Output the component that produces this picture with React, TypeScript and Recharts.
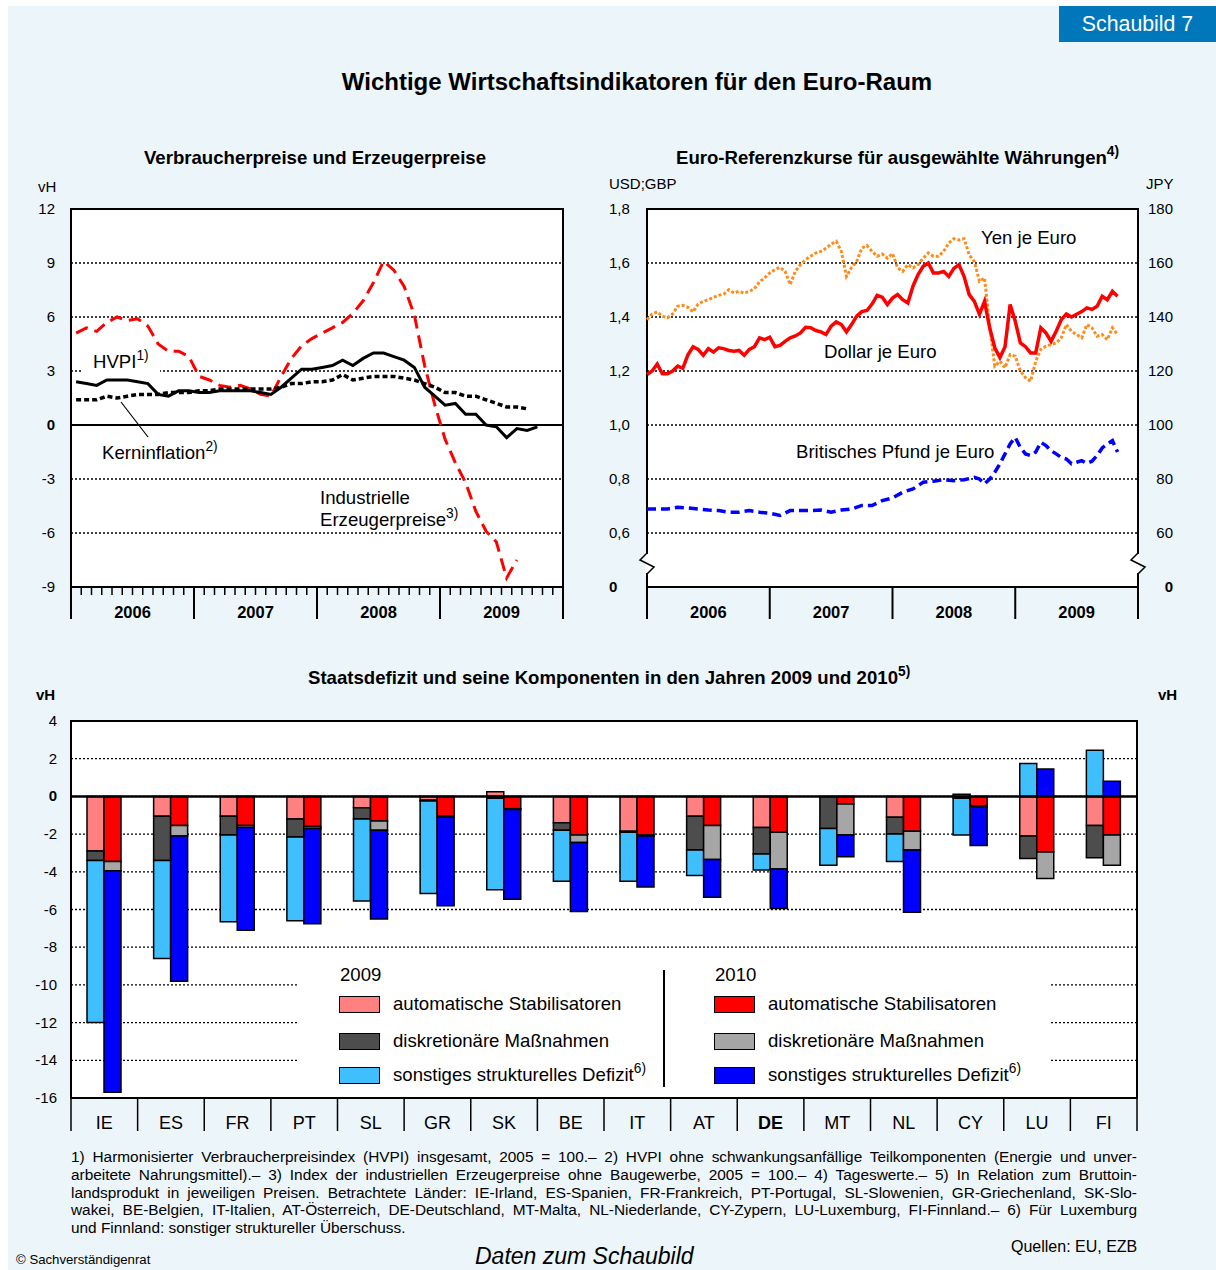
import React from 'react';
import {
  LineChart,
  Line,
  BarChart,
  Bar,
  XAxis,
  YAxis,
  CartesianGrid,
  ReferenceLine,
  ReferenceArea
} from 'recharts';

const FONT = '"Liberation Sans", Arial, sans-serif';
const NARROW = '"Liberation Sans Narrow", "Liberation Sans", Arial, sans-serif';

// --- Verbraucher- und Erzeugerpreise (monatlich ab Jan 2006, vH)
const jahre = ['2006', '2007', '2008', '2009'];
const hvpi = [2.4, 2.3, 2.2, 2.5, 2.5, 2.5, 2.4, 2.3, 1.7, 1.6, 1.9, 1.9, 1.8, 1.8, 1.9, 1.9, 1.9, 1.9, 1.8, 1.7, 2.1, 2.6, 3.1, 3.1, 3.2, 3.3, 3.6, 3.3, 3.7, 4.0, 4.0, 3.8, 3.6, 3.2, 2.1, 1.6, 1.1, 1.2, 0.6, 0.6, 0.0, -0.1, -0.7, -0.2, -0.3, -0.1];
const kerninflation = [1.4, 1.4, 1.4, 1.6, 1.5, 1.6, 1.7, 1.7, 1.7, 1.8, 1.8, 1.8, 1.9, 1.9, 2.0, 2.0, 2.0, 2.0, 2.0, 2.0, 2.1, 2.3, 2.3, 2.4, 2.4, 2.5, 2.8, 2.5, 2.6, 2.7, 2.7, 2.7, 2.6, 2.5, 2.3, 2.1, 1.8, 1.8, 1.6, 1.6, 1.4, 1.2, 1.0, 1.0, 0.9];
const erzeugerpreise = [5.1, 5.4, 5.2, 5.7, 6.0, 5.8, 5.9, 5.5, 4.5, 4.1, 4.1, 3.8, 2.7, 2.5, 2.2, 2.1, 2.2, 2.0, 1.7, 1.6, 2.7, 3.7, 4.4, 4.8, 5.1, 5.4, 5.7, 6.2, 6.9, 7.9, 9.1, 8.6, 7.7, 6.1, 3.3, 1.1, -0.8, -2.1, -3.2, -4.8, -5.9, -6.5, -8.5, -7.5];

// --- Referenzkurse (halbmonatlich ab Jan 2006)
const dollarJeEuro = [1.187, 1.2, 1.226, 1.19, 1.19, 1.2, 1.218, 1.21, 1.26, 1.29, 1.28, 1.258, 1.283, 1.27, 1.286, 1.283, 1.276, 1.273, 1.276, 1.258, 1.28, 1.29, 1.323, 1.316, 1.325, 1.29, 1.295, 1.31, 1.323, 1.33, 1.341, 1.362, 1.36, 1.35, 1.345, 1.335, 1.366, 1.382, 1.372, 1.345, 1.372, 1.403, 1.42, 1.424, 1.448, 1.48, 1.473, 1.446, 1.47, 1.483, 1.464, 1.452, 1.514, 1.557, 1.588, 1.6, 1.563, 1.563, 1.569, 1.55, 1.58, 1.594, 1.55, 1.483, 1.458, 1.41, 1.458, 1.36, 1.286, 1.25, 1.29, 1.446, 1.384, 1.304, 1.29, 1.267, 1.267, 1.36, 1.341, 1.31, 1.347, 1.39, 1.411, 1.4, 1.41, 1.42, 1.434, 1.428, 1.44, 1.477, 1.464, 1.495, 1.477];
const yenJeEuro = [139, 141.1, 141.9, 140.3, 139.7, 141.1, 144, 144.3, 143.6, 141.9, 144.8, 145.8, 146.4, 147.3, 148, 148.5, 150.1, 148.9, 149.5, 148.9, 149.5, 150.5, 153, 154.5, 156.3, 157.5, 158.4, 156.9, 152, 156.9, 159.4, 161.2, 162.5, 163.7, 164.3, 165.5, 167, 168, 164.3, 155, 158.4, 160.6, 165.5, 166.5, 164.3, 162.5, 163.3, 161.8, 163.5, 158.2, 156.9, 159.4, 158.2, 159.4, 161.8, 163.7, 162.5, 162.5, 164.3, 167.4, 169, 168.5, 169, 163, 160.6, 153.2, 154.5, 136.6, 121.8, 123.6, 121.2, 126.1, 125.5, 120, 117.5, 116.2, 123.6, 128, 129.2, 129.8, 130.4, 132.3, 137.2, 134.7, 133.5, 132.3, 137.2, 136, 132.9, 133.5, 131.6, 136, 133.5];
// Pfund: monatlich bis Sep 2008, danach halbmonatlich
const pfundMonatlich = [0.689, 0.689, 0.689, 0.695, 0.693, 0.689, 0.685, 0.683, 0.677, 0.677, 0.683, 0.677, 0.673, 0.665, 0.683, 0.683, 0.683, 0.685, 0.677, 0.685, 0.689, 0.702, 0.702, 0.72, 0.73, 0.751, 0.763, 0.788, 0.792, 0.797, 0.794, 0.797, 0.806];
const pfundHalbmonatlich = [0.8, 0.782, 0.8, 0.825, 0.856, 0.893, 0.93, 0.954, 0.917, 0.893, 0.887, 0.9, 0.936, 0.924, 0.905, 0.893, 0.88, 0.874, 0.856, 0.862, 0.868, 0.858, 0.866, 0.887, 0.915, 0.93, 0.942, 0.9];

// --- Staatsdefizit und Komponenten (vH des BIP)
const laender = ['IE', 'ES', 'FR', 'PT', 'SL', 'GR', 'SK', 'BE', 'IT', 'AT', 'DE', 'MT', 'NL', 'CY', 'LU', 'FI'];
const auto2009 = [-2.9, -1.05, -1.05, -1.2, -0.6, -0.2, 0.25, -1.4, -1.85, -1.05, -1.65, 0, -1.1, 0.12, -2.1, -1.55];
const disk2009 = [-0.5, -2.35, -1.0, -0.95, -0.6, -0.05, -0.1, -0.4, -0.05, -1.8, -1.4, -1.7, -0.9, -0.1, -1.2, -1.7];
const sonst2009 = [-8.6, -5.2, -4.6, -4.45, -4.35, -4.9, -4.85, -2.7, -2.6, -1.35, -0.85, -1.95, -1.45, -1.95, 1.75, 2.45];
const auto2010 = [-3.45, -1.55, -1.55, -1.6, -1.3, -1.05, -0.65, -2.05, -2.05, -1.55, -1.9, -0.4, -1.85, -0.5, -2.95, -2.05];
const disk2010 = [-0.5, -0.55, -0.1, -0.1, -0.5, -0.05, -0.05, -0.4, -0.05, -1.8, -1.95, -1.65, -1.0, -0.05, -1.4, -1.6];
const sonst2010 = [-11.75, -7.7, -5.45, -5.05, -4.7, -4.7, -4.75, -3.65, -2.7, -2.0, -2.1, -1.15, -3.3, -2.05, 1.45, 0.8];

const monatlich = (werte: number[]) => werte.map((v, i) => ({ t: i + 0.5, v }));
const halbmonatlich = (werte: number[], start = 0) => werte.map((v, i) => ({ t: start + i * 0.5, v }));

const pfund = [
  ...pfundMonatlich.map((v, i) => ({ t: i, v })),
  ...halbmonatlich(pfundHalbmonatlich, pfundMonatlich.length - 0.5)
];

const defizitDaten = laender.map((land, i) => ({
  land,
  a9: auto2009[i], d9: disk2009[i], s9: sonst2009[i],
  a10: auto2010[i], d10: disk2010[i], s10: sonst2010[i]
}));

const monate = Array.from({ length: 49 }, (_, i) => i);
const jahrTicks = [0, 6, 12, 18, 24, 30, 36, 42, 48];
const BAND = 1066 / laender.length;

const MonatTick = (p: any) => {
  const v = p.payload.value;
  const { x, y } = p;
  if (v % 12 === 0) return <line x1={x} x2={x} y1={y} y2={y + 32} stroke="#000" strokeWidth={2} />;
  return (
    <g>
      <line x1={x} x2={x} y1={y} y2={y + 8} stroke="#000" strokeWidth={1.5} />
      {v % 12 === 6 && (
        <text x={x} y={y + 31} textAnchor="middle" fontWeight="bold" fontSize={16.5} fontFamily={FONT} fill="#000">
          {jahre[(v - 6) / 12]}
        </text>
      )}
    </g>
  );
};

const JahrTick = (p: any) => {
  const v = p.payload.value;
  const { x, y } = p;
  if (v % 12 === 0) return <line x1={x} x2={x} y1={y} y2={y + 32} stroke="#000" strokeWidth={2} />;
  return (
    <text x={x} y={y + 31} textAnchor="middle" fontWeight="bold" fontSize={16.5} fontFamily={FONT} fill="#000">
      {jahre[(v - 6) / 12]}
    </text>
  );
};

const LandTick = (p: any) => {
  const { x, y, index } = p;
  const land = p.payload.value;
  const h = BAND / 2;
  return (
    <g>
      <line x1={x - h} x2={x - h} y1={y} y2={y + 33} stroke="#000" strokeWidth={1.5} />
      {index === laender.length - 1 && <line x1={x + h} x2={x + h} y1={y} y2={y + 33} stroke="#000" strokeWidth={1.5} />}
      <text x={x} y={y + 31} textAnchor="middle" fontSize={18} fontFamily={NARROW} fill="#000" fontWeight={land === 'DE' ? 'bold' : 'normal'}>
        {land}
      </text>
    </g>
  );
};

const zahlTick = (anchor: 'start' | 'end', fmt: (v: number) => string, nullWert: number) => (p: any) => {
  const v = p.payload.value;
  return (
    <text x={p.x} y={p.y} dy={5} textAnchor={anchor} fontSize={15} fontFamily={FONT} fill="#000" fontWeight={v === nullWert ? 'bold' : 'normal'}>
      {fmt(v)}
    </text>
  );
};

const T = ({ x, y, size = 18.6, bold = false, italic = false, children, style }: any) => (
  <div
    style={{
      position: 'absolute', left: x, top: y - size * 0.46, fontSize: size, lineHeight: 1, whiteSpace: 'nowrap',
      fontWeight: bold ? 'bold' : 'normal', fontStyle: italic ? 'italic' : 'normal', color: '#000', ...style
    }}
  >
    {children}
  </div>
);

const Sup = ({ children }: any) => <sup style={{ fontSize: '0.74em', verticalAlign: '0.55em', lineHeight: 0 }}>{children}</sup>;

const Swatch = ({ x, y, color }: any) => (
  <div style={{ position: 'absolute', left: x, top: y - 8.5, width: 39, height: 15, background: color, border: '1.5px solid #000' }} />
);

const fussnoten = [
  '1) Harmonisierter Verbraucherpreisindex (HVPI) insgesamt, 2005 = 100.– 2)  HVPI ohne schwankungsanfällige Teilkomponenten (Energie und unver-',
  'arbeitete Nahrungsmittel).– 3) Index der industriellen Erzeugerpreise ohne Baugewerbe, 2005 = 100.– 4) Tageswerte.– 5) In Relation zum Bruttoin-',
  'landsprodukt in jeweiligen Preisen. Betrachtete Länder: IE-Irland, ES-Spanien, FR-Frankreich, PT-Portugal, SL-Slowenien, GR-Griechenland, SK-Slo-',
  'wakei, BE-Belgien, IT-Italien, AT-Österreich, DE-Deutschland, MT-Malta, NL-Niederlande, CY-Zypern, LU-Luxemburg, FI-Finnland.– 6) Für Luxemburg',
  'und Finnland: sonstiger struktureller Überschuss.'
];

const grid = { stroke: '#000', strokeDasharray: '2 2', strokeWidth: 1.3 };

export default function App() {
  return (
    <div style={{ position: 'absolute', left: 0, top: 0, width: 1216, height: 1270, background: '#fff', fontFamily: FONT, overflow: 'hidden' }}>
      <div style={{ position: 'absolute', left: 8, top: 6, width: 1208, height: 1264, background: '#ECF5F9' }} />
      <div style={{ position: 'absolute', left: 1059, top: 6, width: 157, height: 36, background: '#0077BB', color: '#fff', fontSize: 21.3, lineHeight: '36px', textAlign: 'center' }}>
        Schaubild 7
      </div>

      <T x={337} y={81} size={24} bold style={{ width: 600, textAlign: 'center' }}>Wichtige Wirtschaftsindikatoren für den Euro-Raum</T>
      <T x={15} y={158} size={18.6} bold style={{ width: 600, textAlign: 'center' }}>Verbraucherpreise und Erzeugerpreise</T>
      <T x={676} y={158} size={18.6} bold>Euro-Referenzkurse für ausgewählte Währungen<Sup>4)</Sup></T>
      <T x={308} y={678} size={18.6} bold>Staatsdefizit und seine Komponenten in den Jahren 2009 und 2010<Sup>5)</Sup></T>

      <T x={38} y={186} size={15}>vH</T>
      <T x={609} y={183} size={15}>USD;GBP</T>
      <T x={1146} y={183} size={15}>JPY</T>
      <T x={36} y={694} size={15} bold>vH</T>
      <T x={1158} y={694} size={15} bold>vH</T>

      {/* Verbraucherpreise und Erzeugerpreise */}
      <div style={{ position: 'absolute', left: 0, top: 190 }}>
        <LineChart width={600} height={440} margin={{ top: 19, right: 37, bottom: 0, left: 0 }}>
          <CartesianGrid vertical={false} fill="#fff" {...grid} />
          <XAxis type="number" dataKey="t" domain={[0, 48]} ticks={monate} interval={0} height={43}
            axisLine={false} tickLine={false} tickSize={0} tickMargin={0} tick={MonatTick} />
          <YAxis domain={[-9, 12]} ticks={[-9, -6, -3, 0, 3, 6, 9, 12]} interval={0} width={71}
            axisLine={false} tickLine={false} tickSize={6} tickMargin={10}
            tick={zahlTick('end', (v) => String(v), 0)} />
          <ReferenceLine y={0} stroke="#000" strokeWidth={2} />
          <ReferenceArea x1={0} x2={48} y1={-9} y2={12} fill="none" stroke="#000" strokeWidth={2} ifOverflow="visible" />
          <Line data={monatlich(erzeugerpreise)} dataKey="v" stroke="#FF0000" strokeWidth={3} strokeDasharray="13 7" dot={false} isAnimationActive={false} />
          <Line data={monatlich(kerninflation)} dataKey="v" stroke="#000" strokeWidth={3.5} strokeDasharray="5 3" dot={false} isAnimationActive={false} />
          <Line data={monatlich(hvpi)} dataKey="v" stroke="#000" strokeWidth={3} dot={false} isAnimationActive={false} />
        </LineChart>
      </div>
      <div style={{ position: 'absolute', left: 82, top: 351, width: 78, height: 23, background: '#fff' }} />
      <T x={93} y={362}>HVPI<Sup>1)</Sup></T>
      <T x={102} y={453}>Kerninflation<Sup>2)</Sup></T>
      <T x={320} y={498}>Industrielle</T>
      <T x={320} y={520}>Erzeugerpreise<Sup>3)</Sup></T>

      {/* Referenzkurse */}
      <div style={{ position: 'absolute', left: 600, top: 190 }}>
        <LineChart width={616} height={440} margin={{ top: 19, right: 0, bottom: 0, left: 0 }}>
          <CartesianGrid vertical={false} fill="#fff" yAxisId="l" {...grid} />
          <XAxis type="number" dataKey="t" domain={[0, 48]} ticks={jahrTicks} interval={0} height={43}
            axisLine={false} tickLine={false} tickSize={0} tickMargin={0} tick={JahrTick} />
          <YAxis yAxisId="l" domain={[0.4, 1.8]} ticks={[0.4, 0.6, 0.8, 1.0, 1.2, 1.4, 1.6, 1.8]} interval={0} width={47}
            axisLine={false} tickLine={false} tickSize={0} tickMargin={38}
            tick={zahlTick('start', (v) => (v === 0.4 ? '0' : v.toFixed(1).replace('.', ',')), 0.4)} />
          <YAxis yAxisId="r" orientation="right" domain={[40, 180]} ticks={[40, 60, 80, 100, 120, 140, 160, 180]} interval={0} width={78}
            axisLine={false} tickLine={false} tickSize={0} tickMargin={35}
            tick={zahlTick('end', (v) => (v === 40 ? '0' : String(v)), 40)} />
          <ReferenceArea yAxisId="l" x1={0} x2={48} y1={0.4} y2={1.8} fill="none" stroke="#000" strokeWidth={2} ifOverflow="visible" />
          <Line yAxisId="r" data={halbmonatlich(yenJeEuro)} dataKey="v" stroke="#FF8C1A" strokeWidth={3} strokeDasharray="3 2" dot={false} isAnimationActive={false} />
          <Line yAxisId="l" data={halbmonatlich(dollarJeEuro)} dataKey="v" stroke="#FF0000" strokeWidth={3.5} dot={false} isAnimationActive={false} />
          <Line yAxisId="l" data={pfund} dataKey="v" stroke="#0000FF" strokeWidth={3.5} strokeDasharray="9 5" dot={false} isAnimationActive={false} />
        </LineChart>
      </div>
      <T x={981} y={238}>Yen je Euro</T>
      <T x={824} y={352}>Dollar je Euro</T>
      <T x={796} y={452}>Britisches Pfund je Euro</T>

      {/* Staatsdefizit */}
      <div style={{ position: 'absolute', left: 0, top: 690 }}>
        <BarChart width={1216} height={450} data={defizitDaten} stackOffset="sign" barGap={0} barSize={17}
          margin={{ top: 31, right: 0, bottom: 0, left: 0 }}>
          <CartesianGrid vertical={false} fill="#fff" {...grid} />
          <XAxis dataKey="land" interval={0} height={42} axisLine={false} tickLine={false} tickSize={0} tickMargin={0} tick={LandTick} />
          <YAxis domain={[-16, 4]} ticks={[-16, -14, -12, -10, -8, -6, -4, -2, 0, 2, 4]} interval={0} width={71}
            axisLine={false} tickLine={false} tickSize={0} tickMargin={14}
            tick={zahlTick('end', (v) => String(v), 0)} />
          <YAxis yAxisId="r" orientation="right" domain={[-16, 4]} ticks={[-16, -14, -12, -10, -8, -6, -4, -2, 0, 2, 4]} interval={0} width={79}
            axisLine={false} tickLine={false} tickSize={0} tickMargin={38}
            tick={zahlTick('end', (v) => String(v), 0)} />
          <Bar dataKey="a9" stackId="a" fill="#FF8080" stroke="#000" strokeWidth={1.5} isAnimationActive={false} />
          <Bar dataKey="d9" stackId="a" fill="#4D4D4D" stroke="#000" strokeWidth={1.5} isAnimationActive={false} />
          <Bar dataKey="s9" stackId="a" fill="#40BFFF" stroke="#000" strokeWidth={1.5} isAnimationActive={false} />
          <Bar dataKey="a10" stackId="b" fill="#FF0000" stroke="#000" strokeWidth={1.5} isAnimationActive={false} />
          <Bar dataKey="d10" stackId="b" fill="#A6A6A6" stroke="#000" strokeWidth={1.5} isAnimationActive={false} />
          <Bar dataKey="s10" stackId="b" fill="#0000FF" stroke="#000" strokeWidth={1.5} isAnimationActive={false} />
          <ReferenceLine y={0} stroke="#000" strokeWidth={2.5} />
          <ReferenceArea y1={-16} y2={4} fill="none" stroke="#000" strokeWidth={2} ifOverflow="visible" />
        </BarChart>
      </div>

      {/* Legende */}
      <div style={{ position: 'absolute', left: 297, top: 955, width: 754, height: 142, background: '#fff' }} />
      <div style={{ position: 'absolute', left: 663, top: 970, width: 2, height: 117, background: '#000' }} />
      <T x={340} y={975}>2009</T>
      <Swatch x={339} y={1004} color="#FF8080" />
      <Swatch x={339} y={1041} color="#4D4D4D" />
      <Swatch x={339} y={1075} color="#40BFFF" />
      <T x={393} y={1004}>automatische Stabilisatoren</T>
      <T x={393} y={1041}>diskretionäre Maßnahmen</T>
      <T x={393} y={1075}>sonstiges strukturelles Defizit<Sup>6)</Sup></T>
      <T x={715} y={975}>2010</T>
      <Swatch x={714} y={1004} color="#FF0000" />
      <Swatch x={714} y={1041} color="#A6A6A6" />
      <Swatch x={714} y={1075} color="#0000FF" />
      <T x={768} y={1004}>automatische Stabilisatoren</T>
      <T x={768} y={1041}>diskretionäre Maßnahmen</T>
      <T x={768} y={1075}>sonstiges strukturelles Defizit<Sup>6)</Sup></T>

      {/* Hinweislinie und Achsenbrüche */}
      <svg style={{ position: 'absolute', left: 0, top: 0, pointerEvents: 'none' }} width={1216} height={1270}>
        <line x1={121} y1={402} x2={148} y2={437} stroke="#000" strokeWidth={1.2} />
        {[647, 1138].map((x) => (
          <g key={x}>
            <line x1={x} x2={x} y1={554} y2={573} stroke="#fff" strokeWidth={3} />
            <polyline points={`${x},553 ${x - 7},560 ${x + 7},567 ${x},574`} fill="none" stroke="#000" strokeWidth={1.5} />
          </g>
        ))}
      </svg>

      {/* Fussnoten */}
      <div style={{ position: 'absolute', left: 71, top: 1148, width: 1066, fontSize: 15.4, lineHeight: '17.75px', color: '#000' }}>
        {fussnoten.map((z, i) => (
          <div key={i} style={{ textAlign: i < fussnoten.length - 1 ? 'justify' : 'left', textAlignLast: (i < fussnoten.length - 1 ? 'justify' : 'left') as any }}>
            {z}
          </div>
        ))}
      </div>
      <T x={16} y={1259} size={13.2}>© Sachverständigenrat</T>
      <T x={475} y={1255} size={23} italic style={{ lineHeight: '24px', height: 24 }}>Daten zum Schaubild</T>
      <T x={1011} y={1246} size={16}>Quellen: EU, EZB</T>
    </div>
  );
}
